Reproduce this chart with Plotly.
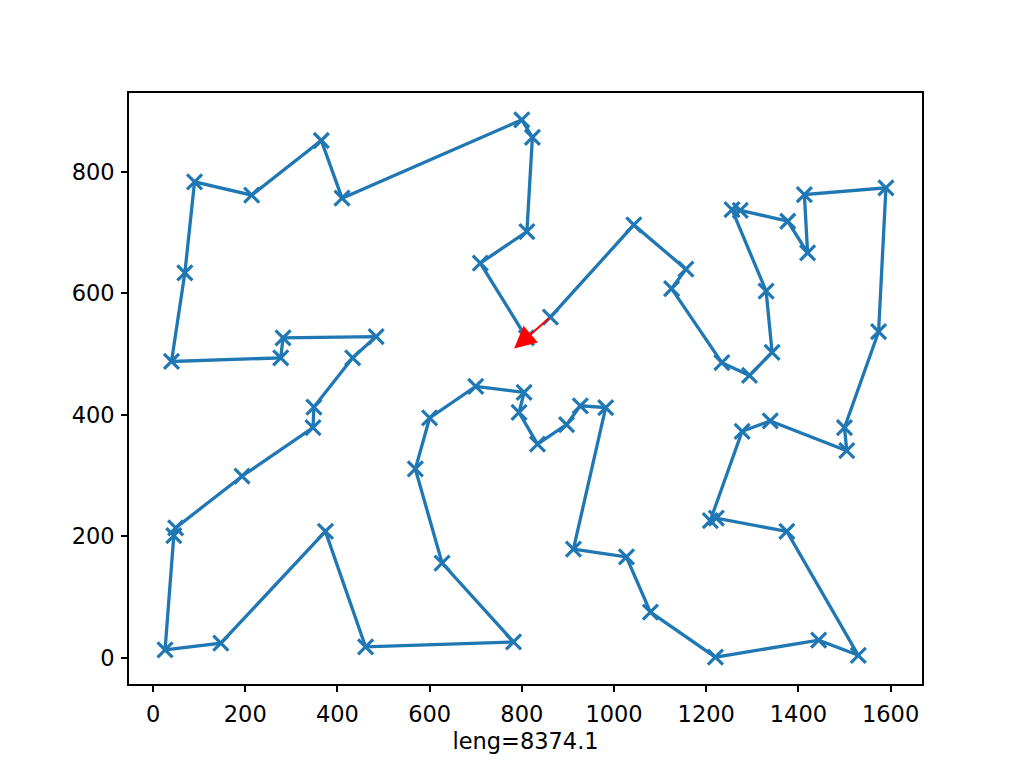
import plotly.graph_objects as go
import math

# Tour (city coordinates in visiting order)
route_x = [862, 1043, 1156, 1125, 1234, 1294, 1343, 1330, 1256, 1274, 1377, 1420, 1413, 1590,
           1574, 1500, 1505, 1339, 1278, 1209, 1222, 1375, 1530, 1444, 1220, 1079, 1027, 912,
           982, 927, 897, 834, 794, 805, 700, 600, 569, 627, 782, 461, 374, 147, 26, 45, 49,
           193, 347, 349, 433, 484, 282, 277, 40, 69, 90, 214, 365, 410, 800, 823, 811, 710, 810]
route_y = [561, 713, 640, 608, 486, 465, 503, 604, 738, 737, 719, 667, 763, 774,
           537, 379, 341, 390, 373, 226, 230, 208, 4, 29, 1, 75, 166, 179,
           412, 415, 384, 352, 404, 437, 447, 395, 311, 156, 26, 18, 208, 24, 13, 201, 214,
           299, 379, 413, 494, 529, 527, 494, 488, 634, 784, 762, 852, 757, 886, 857, 702, 650, 527]

x_ticks = [0, 200, 400, 600, 800, 1000, 1200, 1400, 1600]
y_ticks = [0, 200, 400, 600, 800]
x_label = "leng=8374.1"

BLUE = "#1f77b4"
HEAD_LEN = 32  # arrow head length in data units

fig = go.Figure()
fig.add_trace(go.Scatter(
    x=route_x, y=route_y, mode="lines+markers",
    line=dict(color=BLUE, width=3.3),
    marker=dict(symbol="x-thin-open", size=15, color=BLUE,
                line=dict(color=BLUE, width=3.2)),
    showlegend=False, hoverinfo="skip"))

# red arrow closing the tour: from first city toward last city
tx, ty = route_x[0], route_y[0]
hx, hy = route_x[-1], route_y[-1]
d = math.hypot(hx - tx, hy - ty)
tipx = hx + (hx - tx) / d * HEAD_LEN
tipy = hy + (hy - ty) / d * HEAD_LEN
fig.add_annotation(x=tipx, y=tipy, ax=tx, ay=ty, xref="x", yref="y",
                   axref="x", ayref="y", showarrow=True, arrowhead=2,
                   arrowsize=2.2, arrowwidth=2, arrowcolor="red", text="")

xmin, xmax = min(route_x), max(route_x)
ymin, ymax = min(route_y), max(route_y)
px = (xmax - xmin) * 0.05
py = (ymax - ymin) * 0.05

FONT = dict(family="DejaVu Sans", size=22.5, color="black")

axis_common = dict(showline=True, linecolor="black", linewidth=1.8, mirror=True,
                   ticks="outside", ticklen=6, tickwidth=1.8, tickcolor="black",
                   showgrid=False, zeroline=False, tickfont=FONT)

fig.update_layout(
    width=1024, height=768,
    margin=dict(l=121, r=110, t=85, b=92),
    paper_bgcolor="white", plot_bgcolor="white",
    xaxis=dict(range=[xmin - px, xmax + px], tickvals=x_ticks,
               ticktext=[str(v) for v in x_ticks],
               title=dict(text=x_label, font=FONT, standoff=7),
               ticklabelstandoff=3,
               **axis_common),
    yaxis=dict(range=[ymin - py, ymax + py], tickvals=y_ticks,
               ticktext=[str(v) for v in y_ticks], ticklabelstandoff=2,
               **axis_common),
)

fig.write_html("out.html")
